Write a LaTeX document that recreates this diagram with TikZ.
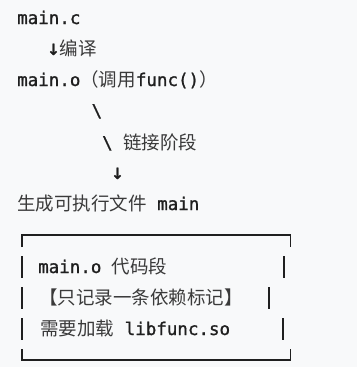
\documentclass[tikz,border=0pt]{standalone}
\usepackage{fontspec}
\setmonofont[FakeBold=1.2]{DejaVu Sans Mono}
\newfontfamily\cjk{Noto Sans CJK SC}
\usetikzlibrary{positioning}
\definecolor{codebg}{HTML}{F8F9FA}
\definecolor{codefg}{HTML}{1F1F1F}
\definecolor{cjkfg}{HTML}{3A3A3A}
\newcommand{\zh}[1]{{\cjk\color{cjkfg}\fontsize{18.5}{20}\selectfont #1}}
\newcommand{\cd}[1]{{\ttfamily\fontsize{17.5}{20}\selectfont #1}}
\newcommand{\dn}{{\ttfamily\fontsize{21}{20}\selectfont ↓}}
\tikzset{codeline/.style={anchor=base west, inner sep=0pt, text=codefg},
  boxline/.style={codefg, line width=1.3pt}}

\begin{document}
\begin{tikzpicture}[x=1pt,y=-1pt]
\fill[codebg] (0,0) rectangle (357,367);
\useasboundingbox (0,0) rectangle (357,367);
% build steps
\node[codeline] (src) at (17,24) {\cd{main.c}};
\node[codeline] (compile) at (47,55) {\dn\zh{编译}};
\node[codeline] (obj) at (17,86) {\cd{main.o}\zh{（调用}\cd{func()}\zh{）}};
\node[codeline] (slashA) at (91.5,117) {\cd{\textbackslash}};
\node[codeline] (slashB) at (102,149) {\cd{\textbackslash{} }\zh{链接阶段}};
\node[codeline] (down) at (111,179) {\dn};
\node[codeline] (exe) at (17,210) {\zh{生成可执行文件}\cd{ main}};
% box content
\node[codeline] (rowA) at (38,273) {\cd{main.o }\zh{代码段}};
\node[codeline] (rowB) at (39,304) {\zh{【只记录一条依赖标记】}};
\node[codeline] (rowC) at (40,335) {\zh{需要加载}\cd{ libfunc.so}};
% box frame
\draw[boxline] (22,247) -- (22,235) -- (290.5,235) -- (290.5,247);
\draw[boxline] (22,349) -- (22,360) -- (290.5,360) -- (290.5,349);
\draw[boxline] (22,256) -- (22,278);
\draw[boxline] (284,256) -- (284,278);
\draw[boxline] (22,287) -- (22,309);
\draw[boxline] (269,287) -- (269,309);
\draw[boxline] (22,318) -- (22,340);
\draw[boxline] (283,318) -- (283,340);
\end{tikzpicture}
\end{document}
